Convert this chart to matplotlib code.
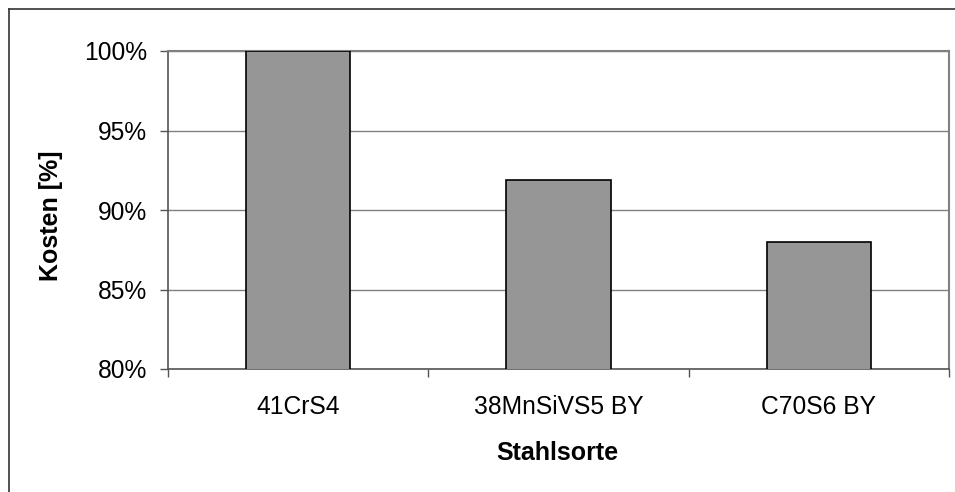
import matplotlib
matplotlib.use("Agg")
import matplotlib.pyplot as plt
from matplotlib.lines import Line2D
from matplotlib.ticker import FixedLocator, PercentFormatter

categories = ["41CrS4", "38MnSiVS5 BY", "C70S6 BY"]
kosten = [100, 91.9, 88]
yticks = [80, 85, 90, 95, 100]

plt.rcParams["font.family"] = ["Liberation Sans", "DejaVu Sans"]
W, H = 955, 492
fig = plt.figure(figsize=(W / 100, H / 100), dpi=100)
ax = fig.add_axes([168 / W, 1 - 369 / H, (949 - 168) / W, (369 - 51) / H])

x = list(range(len(categories)))
ax.bar(x, kosten, width=0.4, color="#969696", edgecolor="black", linewidth=1.2, zorder=3)

ax.set_xlim(-0.5, len(categories) - 0.5)
ax.set_ylim(80, 100)
ax.set_yticks(yticks)
ax.yaxis.set_major_formatter(PercentFormatter(decimals=0))
ax.grid(axis="y", color="#808080", linewidth=1.0, zorder=1)

ax.xaxis.set_major_locator(FixedLocator([i - 0.5 for i in range(len(categories) + 1)]))
ax.xaxis.set_minor_locator(FixedLocator(x))
ax.set_xticklabels([], minor=False)
ax.set_xticklabels(categories, minor=True)
ax.tick_params(axis="x", which="major", length=6, width=1, color="#555555", direction="out")
ax.tick_params(axis="x", which="minor", length=0, pad=19, labelsize=17.7)
ax.tick_params(axis="y", length=6, width=1, color="#555555", direction="out", pad=9, labelsize=17.7)

for s in ["left", "bottom"]:
    ax.spines[s].set_color("#555555")
    ax.spines[s].set_linewidth(1.2)
for s in ["top", "right"]:
    ax.spines[s].set_color("#808080")
    ax.spines[s].set_linewidth(1.5)

fig.text(557 / W, 1 - 453 / H, "Stahlsorte", ha="center", va="center",
         fontsize=18, fontweight="bold")
fig.text(51 / W, 1 - 216 / H, "Kosten [%]", ha="center", va="center",
         rotation=90, fontsize=18, fontweight="bold")

# outer frame (only left and top edges visible)
fig.add_artist(Line2D([8.5 / W, 8.5 / W], [0, 1 - 9 / H], transform=fig.transFigure,
                      color="#333333", linewidth=1.2))
fig.add_artist(Line2D([8.5 / W, 1], [1 - 9 / H, 1 - 9 / H], transform=fig.transFigure,
                      color="#333333", linewidth=1.2))

fig.savefig("out.png", dpi=100)
